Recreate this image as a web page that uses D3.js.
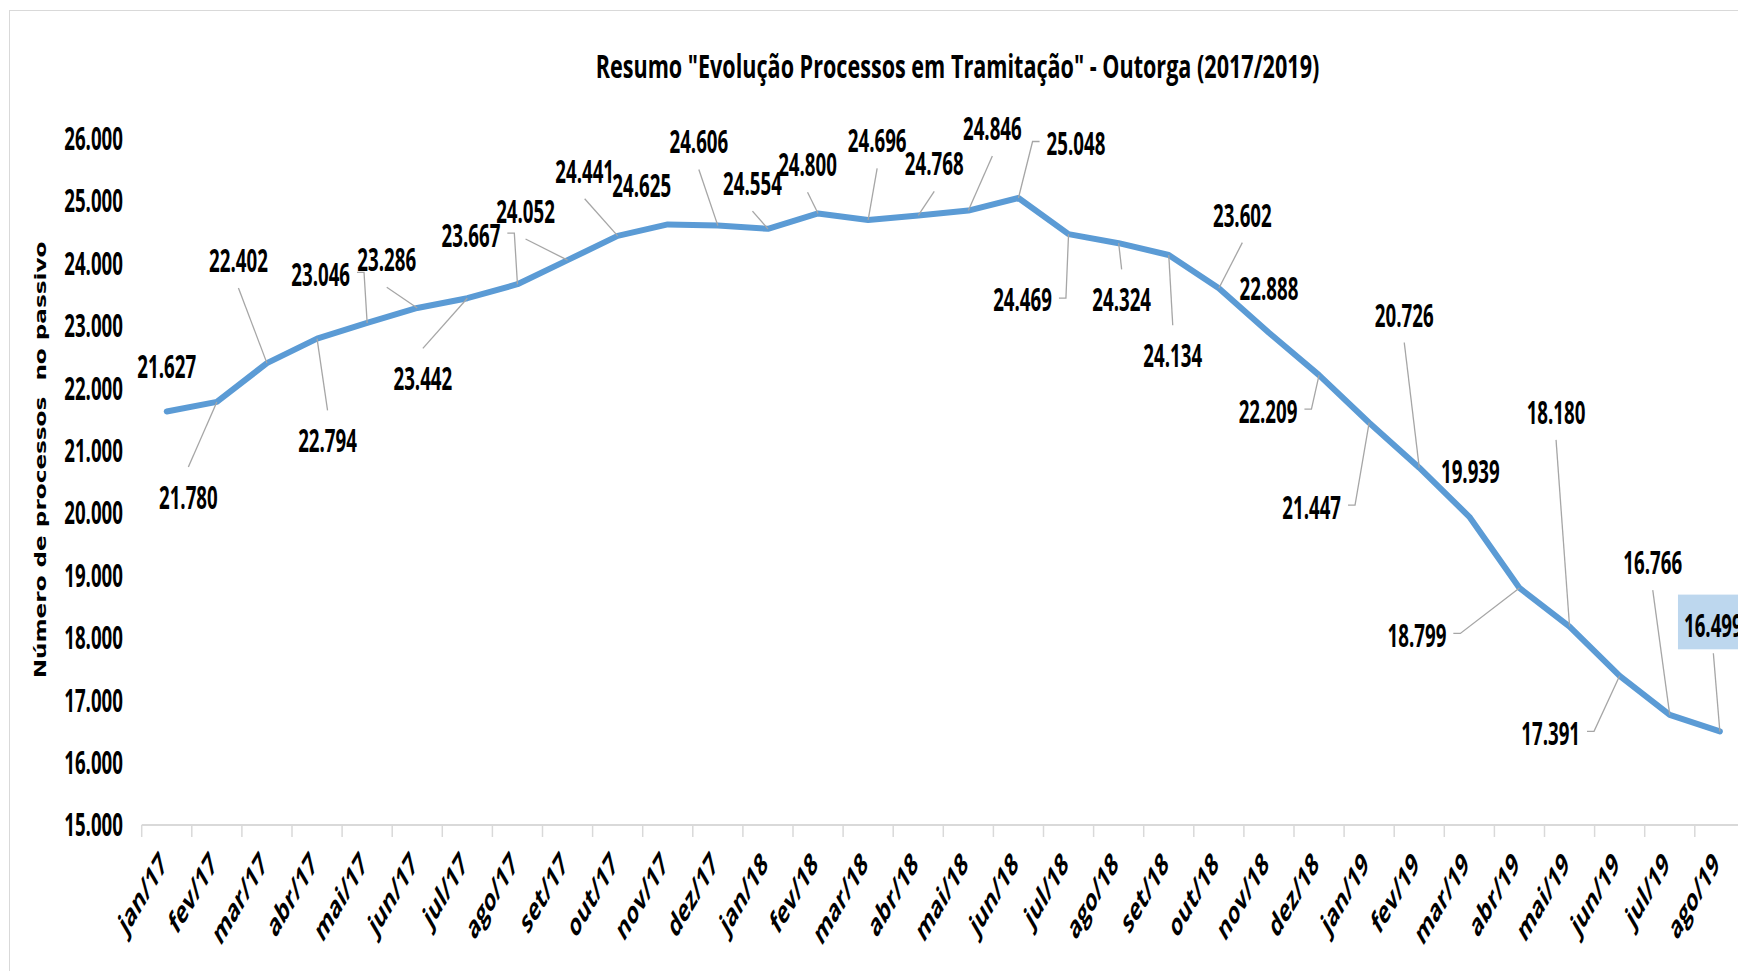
<!DOCTYPE html>
<html>
<head>
<meta charset="utf-8">
<script src="https://cdnjs.cloudflare.com/ajax/libs/d3/7.8.5/d3.min.js"></script>
<style>
  body { margin: 0; background: #fff; overflow: hidden; }
</style>
</head>
<body>
<div id="chart"></div>
<script>
// data
var months = ["jan/17", "fev/17", "mar/17", "abr/17", "mai/17", "jun/17", "jul/17", "ago/17",
              "set/17", "out/17", "nov/17", "dez/17", "jan/18", "fev/18", "mar/18", "abr/18",
              "mai/18", "jun/18", "jul/18", "ago/18", "set/18", "out/18", "nov/18", "dez/18",
              "jan/19", "fev/19", "mar/19", "abr/19", "mai/19", "jun/19", "jul/19", "ago/19"];
var processos = [21627, 21780, 22402, 22794, 23046, 23286, 23442, 23667,
                 24052, 24441, 24625, 24606, 24554, 24800, 24696, 24768,
                 24846, 25048, 24469, 24324, 24134, 23602, 22888, 22209,
                 21447, 20726, 19939, 18799, 18180, 17391, 16766, 16499];
var yTicks = [15000, 16000, 17000, 18000, 19000, 20000, 21000, 22000, 23000, 24000, 25000, 26000];
var chartTitle = 'Resumo "Evolução Processos em Tramitação" - Outorga (2017/2019)';
var yTitle = "Número de processos  no passivo";
var highlighted = "ago/19";

// where each value label sits (px from its point) and which side its leader line leaves from
var labelDx = [0, -28.5, -28.5, 10.5, -46.5, -30.5, -44.5, -46.5, -42, -33, -26, -19, -15.5, -10.5, 9, 16,
               24, 57.5, -46, 3, 4, 23.5, 0, -51, -57.5, -15, 1, -102.5, -13.5, -69, -17, -6.5];
var labelDy = [-45, 95.5, -102.5, 102, -48.5, -48, 80.5, -49, -48.5, -64.5, -38.5, -83.5, -45, -48.5, -79, -51.5,
               -82, -54.5, 66, 56.5, 100.5, -73, -44.5, 36, 84.5, -152.5, -45.5, 47.5, -214, 57.5, -152, -105.5];
var leaderSide = ["", "t", "b", "t", "r", "b", "t", "r", "b", "b", "", "b", "b", "b", "b", "b",
                  "b", "l", "r", "t", "t", "b", "", "r", "r", "b", "", "r", "b", "r", "b", "b"];

var W = 1738, H = 971;
var K = 1.7;           // the picture is stretched vertically, text too
var FONT = "'Open Sans', sans-serif";
var fs = 18.7;
var capS = 0.714 * fs * K;

var fmt = d3.formatLocale({decimal: ",", thousands: ".", grouping: [3], currency: ["", ""]}).format(",.0f");

var svg = d3.select("#chart").append("svg")
    .attr("width", W)
    .attr("height", H);

// chart area border
svg.append("rect")
    .attr("x", 9.5).attr("y", 10.5)
    .attr("width", 2000).attr("height", 2000)
    .attr("fill", "none")
    .attr("stroke", "#d9d9d9");

var x = d3.scaleBand()
    .domain(months)
    .range([141.7, 141.7 + 50.1 * months.length]);
var y = d3.scaleLinear()
    .domain([15000, 26000])
    .range([825, 138.6]);
var cx = function(m) { return x(m) + x.bandwidth() / 2; };

function stretchText(g, px, py, str, size, opts) {
  opts = opts || {};
  return g.append("text")
    .attr("transform", "translate(" + px + "," + py + ") scale(1," + (opts.sy || K) + ")" +
          (opts.rotate ? " rotate(" + opts.rotate + ")" : ""))
    .attr("text-anchor", opts.anchor || "middle")
    .style("font-family", opts.family || FONT)
    .style("font-weight", 700)
    .style("font-size", size + "px")
    .style("white-space", "pre")
    .attr("fill", "#000")
    .text(str);
}

// title
stretchText(svg, 957.5, 78, chartTitle, 21.6, {sy: 1.5});

// y axis title
stretchText(svg, 46, 460, yTitle, 16.3, {rotate: -90, sy: 1.42, family: "'DejaVu Sans', sans-serif"});

// y tick labels
var yAxis = svg.append("g");
yTicks.forEach(function(v) {
  stretchText(yAxis, 123, y(v) + capS / 2, fmt(v), fs, {anchor: "end"});
});

// x axis
var xAxis = svg.append("g");
xAxis.append("line")
    .attr("x1", x.range()[0]).attr("x2", W + 10)
    .attr("y1", y(15000)).attr("y2", y(15000))
    .attr("stroke", "#d9d9d9").attr("stroke-width", 2);
d3.range(months.length + 1).forEach(function(i) {
  var tx = x.range()[0] + i * x.step();
  xAxis.append("line")
      .attr("x1", tx).attr("x2", tx)
      .attr("y1", y(15000)).attr("y2", y(15000) + 12)
      .attr("stroke", "#d9d9d9").attr("stroke-width", 1.5);
});
months.forEach(function(m) {
  stretchText(xAxis, cx(m) + 1, 866, m, fs, {anchor: "end", rotate: -45});
});

// the series
var line = d3.line()
    .x(function(d, i) { return cx(months[i]); })
    .y(function(d) { return y(d); });
svg.append("path")
    .datum(processos)
    .attr("d", line)
    .attr("fill", "none")
    .attr("stroke", "#5b9bd5")
    .attr("stroke-width", 6)
    .attr("stroke-linejoin", "round")
    .attr("stroke-linecap", "round");

// value labels with leader lines
var labels = svg.append("g");
var leaders = svg.insert("g", "g:last-child");
processos.forEach(function(v, i) {
  var ptx = cx(months[i]), pty = y(v);
  var lx = ptx + labelDx[i], ly = pty + labelDy[i];
  var base = ly + capS / 2;
  var t = stretchText(labels, lx, base, fmt(v), fs);
  var w = t.node().getComputedTextLength();
  var left = lx - w / 2, right = lx + w / 2;

  if (months[i] === highlighted) {
    labels.insert("rect", "text:last-child")
        .attr("x", left - 6).attr("y", base - capS - 20)
        .attr("width", w + 12).attr("height", capS + 32)
        .attr("fill", "#bdd7ee");
  }

  var side = leaderSide[i], p = null;
  if (side === "t") p = "M" + lx + "," + (base - capS - 19) + "L" + ptx + "," + pty;
  if (side === "b") p = "M" + lx + "," + (base + 16) + "L" + ptx + "," + pty;
  if (side === "r") p = "M" + (right + 7) + "," + (ly - 2) + "H" + (right + 14) + "L" + ptx + "," + pty;
  if (side === "l") p = "M" + (left - 7) + "," + (ly - 2) + "H" + (left - 14) + "L" + ptx + "," + pty;
  if (p) {
    leaders.append("path")
        .attr("d", p)
        .attr("fill", "none")
        .attr("stroke", "#a6a6a6")
        .attr("stroke-width", 1.3);
  }
});
</script>
</body>
</html>
